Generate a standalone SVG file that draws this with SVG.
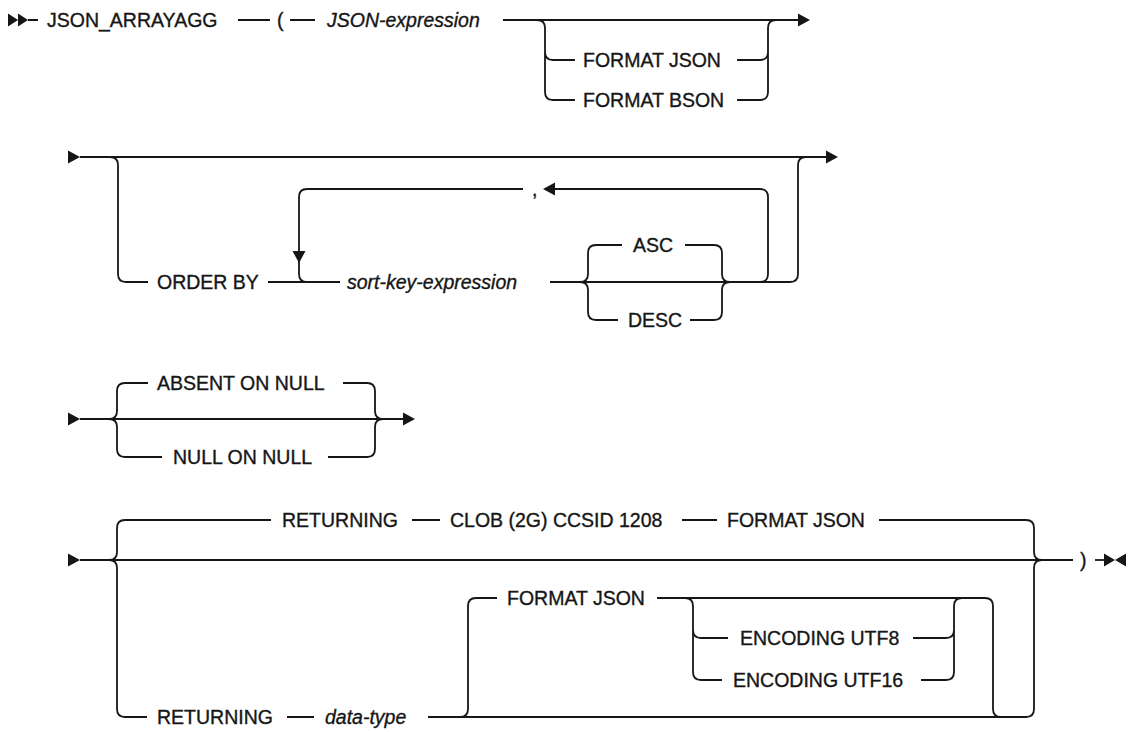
<svg xmlns="http://www.w3.org/2000/svg" width="1128" height="732" viewBox="0 0 1128 732">
<style>
.ln{fill:none;stroke:#161616;stroke-width:1.8;stroke-linejoin:round;stroke-linecap:butt}
.ah{fill:#161616;stroke:none}
text{font-family:"Liberation Sans",Arial,sans-serif;font-size:19.5px;fill:#161616;stroke:#161616;stroke-width:0.35}
.v{font-style:italic}
</style>
<rect width="1128" height="732" fill="#ffffff"/>
<g id="connectors">
<!-- Row 1 -->
<path class="ah" d="M8,13.5 L18,20 L8,26.5 Z M18,13.5 L28,20 L18,26.5 Z"/>
<path class="ln" d="M28,20 H38 M238,20 H270 M290,20 H315 M503,20 H800"/>
<path class="ah" d="M798,13.5 L810,20 L798,26.5 Z"/>
<path class="ln" d="M537,20 Q545,20 545,28 V92 Q545,100 553,100 H575 M545,52 Q545,60 553,60 H575"/>
<path class="ln" d="M737,60 H760 Q768,60 768,52 M737,100 H760 Q768,100 768,92 V28 Q768,20 776,20"/>
<!-- Row 2 -->
<path class="ah" d="M68,150.5 L80,157 L68,163.5 Z"/>
<path class="ln" d="M80,157 H828"/>
<path class="ah" d="M826,150.5 L838,157 L826,163.5 Z"/>
<path class="ln" d="M110,157 Q118,157 118,165 V274 Q118,282 126,282 H148"/>
<path class="ln" d="M268,282 H340"/>
<path class="ln" d="M523,189 H307 Q299,189 299,197 V274 Q299,282 307,282"/>
<path class="ah" d="M292.5,251 L299,263 L305.5,251 Z"/>
<path class="ah" d="M555,182.5 L543,189 L555,195.5 Z"/>
<path class="ln" d="M555,189 H760 Q768,189 768,197 V274 Q768,282 760,282"/>
<path class="ln" d="M550,282 H790 Q798,282 798,274 V165 Q798,157 806,157"/>
<path class="ln" d="M596,245 Q588,245 588,253 V274 Q588,282 580,282 M580,282 Q588,282 588,290 V312 Q588,320 596,320"/>
<path class="ln" d="M596,245 H622 M685,245 H714 M596,320 H618 M690,320 H714"/>
<path class="ln" d="M714,245 Q722,245 722,253 V274 Q722,282 730,282 M714,320 Q722,320 722,312 V290 Q722,282 730,282"/>
<!-- Row 3 -->
<path class="ah" d="M68,412.5 L80,419 L68,425.5 Z"/>
<path class="ln" d="M80,419 H404"/>
<path class="ah" d="M403,412.5 L415,419 L403,425.5 Z"/>
<path class="ln" d="M125,383 Q117,383 117,391 V411 Q117,419 109,419 M109,419 Q117,419 117,427 V449 Q117,457 125,457"/>
<path class="ln" d="M125,383 H148 M343,383 H367 M125,457 H162 M328,457 H367"/>
<path class="ln" d="M367,383 Q375,383 375,391 V411 Q375,419 383,419 M367,457 Q375,457 375,449 V427 Q375,419 383,419"/>
<!-- Row 4 -->
<path class="ah" d="M68,553.5 L80,560 L68,566.5 Z"/>
<path class="ln" d="M80,560 H1073"/>
<path class="ln" d="M125,520 Q117,520 117,528 V552 Q117,560 109,560 M109,560 Q117,560 117,568 V709 Q117,717 125,717 H147"/>
<path class="ln" d="M125,520 H271 M412,520 H440 M682,520 H717 M879,520 H1026 Q1034,520 1034,528 V552 Q1034,560 1042,560"/>
<path class="ln" d="M287,717 H314 M428,717 H1026 Q1034,717 1034,709 V568 Q1034,560 1042,560"/>
<path class="ln" d="M460,717 Q468,717 468,709 V606 Q468,598 476,598 H497"/>
<path class="ln" d="M657,598 H985 Q993,598 993,606 V709 Q993,717 1001,717"/>
<path class="ln" d="M685,598 Q693,598 693,606 V672 Q693,680 701,680 H722 M693,630 Q693,638 701,638 H728"/>
<path class="ln" d="M913,638 H946 Q954,638 954,630 M921,680 H946 Q954,680 954,672 V606 Q954,598 962,598"/>
<path class="ln" d="M1095,560 H1108"/>
<path class="ah" d="M1104,553.5 L1115,560 L1104,566.5 Z M1126,553.5 L1115,560 L1126,566.5 Z"/>
</g>
<g id="n-json-arrayagg"><text x="47" y="27">JSON_ARRAYAGG</text></g>
<g id="n-lparen"><text x="277" y="27">(</text></g>
<g id="n-json-expression"><text class="v" x="327" y="27">JSON-expression</text></g>
<g id="n-format-json-1"><text x="583" y="67">FORMAT JSON</text></g>
<g id="n-format-bson"><text x="583" y="107">FORMAT BSON</text></g>
<g id="n-order-by"><text x="157" y="289">ORDER BY</text></g>
<g id="n-comma"><text x="532" y="196">,</text></g>
<g id="n-sort-key"><text class="v" x="347" y="289">sort-key-expression</text></g>
<g id="n-asc"><text x="633" y="252">ASC</text></g>
<g id="n-desc"><text x="628" y="327">DESC</text></g>
<g id="n-absent"><text x="157" y="390">ABSENT ON NULL</text></g>
<g id="n-null"><text x="173" y="464">NULL ON NULL</text></g>
<g id="n-returning-1"><text x="282" y="527">RETURNING</text></g>
<g id="n-clob"><text x="450" y="527">CLOB (2G) CCSID 1208</text></g>
<g id="n-format-json-2"><text x="727" y="527">FORMAT JSON</text></g>
<g id="n-returning-2"><text x="157" y="724">RETURNING</text></g>
<g id="n-data-type"><text class="v" x="325" y="724">data-type</text></g>
<g id="n-format-json-3"><text x="507" y="605">FORMAT JSON</text></g>
<g id="n-utf8"><text x="740" y="645">ENCODING UTF8</text></g>
<g id="n-utf16"><text x="733" y="687">ENCODING UTF16</text></g>
<g id="n-rparen"><text x="1080" y="567">)</text></g>
</svg>
